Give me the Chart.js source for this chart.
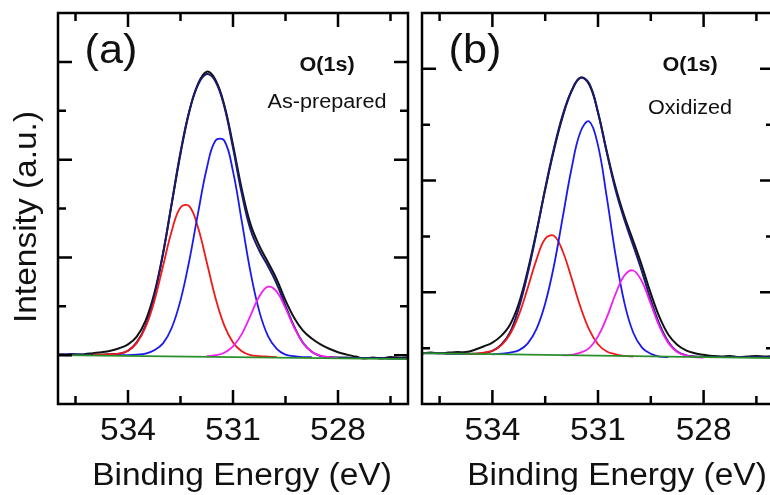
<!DOCTYPE html>
<html>
<head>
<meta charset="utf-8">
<script src="https://cdn.jsdelivr.net/npm/chart.js@4.4.1/dist/chart.umd.min.js"></script>
<style>
html,body{margin:0;padding:0;background:#fff;overflow:hidden;width:770px;height:495px;position:relative;}
canvas{position:absolute;top:0;}
</style>
</head>
<body>
<canvas id="cA" width="414" height="495" style="left:0"></canvas>
<canvas id="cB" width="370" height="495" style="left:414px"></canvas>
<script>
// ---------- data (binding energy in eV, intensity in arbitrary units) ----------
const energy = [536, 535.75, 535.5, 535.25, 535, 534.75, 534.5, 534.25, 534, 533.75,
  533.5, 533.25, 533, 532.75, 532.5, 532.25, 532, 531.75, 531.5, 531.25,
  531, 530.75, 530.5, 530.25, 530, 529.75, 529.5, 529.25, 529, 528.75,
  528.5, 528.25, 528, 527.75, 527.5, 527.25, 527, 526.75, 526.5, 526.25, 526];

// (a) As-prepared
const aMeasured = [0.01, 0.00, 0.01, 0.02, 0.04, 0.06, 0.09, 0.14, 0.22, 0.38,
  0.70, 1.26, 2.08, 3.10, 4.12, 4.98, 5.55, 5.80, 5.63, 5.12,
  4.30, 3.40, 2.68, 2.24, 1.90, 1.55, 1.12, 0.76, 0.50, 0.34,
  0.22, 0.13, 0.06, 0.01, -0.03, -0.07, -0.05, -0.07, -0.04, -0.06, -0.05];
const aFit = [0.02, 0.02, 0.02, 0.01, 0.01, 0.01, 0.02, 0.03, 0.09, 0.26,
  0.60, 1.21, 2.07, 3.11, 4.15, 4.99, 5.53, 5.75, 5.60, 5.09,
  4.24, 3.31, 2.57, 2.14, 1.82, 1.46, 1.01, 0.58, 0.25, 0.07,
  -0.02, -0.04, -0.05, -0.05, -0.06, -0.06, -0.06, -0.06, -0.07, -0.07, -0.07];
const aPeakHigh = [null, null, null, null, 0.01, 0.01, 0.02, 0.03, 0.09, 0.25,
  0.57, 1.10, 1.82, 2.54, 3.02, 3.05, 2.61, 1.90, 1.17, 0.61,
  0.26, 0.08, 0.00, -0.02, -0.03, -0.04, null, null, null, null,
  null, null, null, null, null, null, null, null, null, null, null];
const aPeakMid = [null, null, null, null, null, null, null, 0.00, 0.00, 0.01,
  0.03, 0.10, 0.24, 0.56, 1.12, 1.93, 2.90, 3.82, 4.39, 4.39,
  3.76, 2.74, 1.70, 0.90, 0.39, 0.13, 0.01, -0.02, -0.04, -0.04,
  null, null, null, null, null, null, null, null, null, null, null];
const aPeakLow = [null, null, null, null, null, null, null, null, null, null,
  null, null, null, null, null, null, null, -0.02, 0.00, 0.05,
  0.18, 0.43, 0.81, 1.20, 1.40, 1.30, 0.96, 0.56, 0.25, 0.07,
  -0.01, -0.04, -0.05, null, null, null, null, null, null, null, null];
const baselineEnergy = [536, 526];
const aBaseline = [0.00, -0.08];

// (b) Oxidized
const bMeasured = [0.91, 0.92, 0.91, 0.92, 0.93, 0.93, 0.97, 1.03, 1.10, 1.22,
  1.42, 1.80, 2.38, 3.08, 3.84, 4.55, 5.15, 5.60, 5.84, 5.72,
  5.22, 4.52, 3.88, 3.36, 2.92, 2.47, 1.98, 1.55, 1.24, 1.06,
  0.96, 0.91, 0.88, 0.86, 0.85, 0.86, 0.84, 0.85, 0.86, 0.85, 0.86];
const bFit = [0.91, 0.91, 0.91, 0.90, 0.90, 0.90, 0.90, 0.91, 0.95, 1.06,
  1.28, 1.72, 2.33, 3.06, 3.86, 4.58, 5.18, 5.61, 5.84, 5.74,
  5.22, 4.50, 3.83, 3.30, 2.84, 2.37, 1.86, 1.42, 1.11, 0.94,
  0.87, 0.85, 0.84, 0.84, 0.84, 0.84, 0.84, 0.84, 0.84, 0.84, 0.84];
const bPeakHigh = [null, null, null, null, null, 0.90, 0.90, 0.92, 0.95, 1.05,
  1.25, 1.59, 2.07, 2.58, 2.96, 3.01, 2.73, 2.25, 1.74, 1.33,
  1.07, 0.94, 0.89, 0.86, 0.85, null, null, null, null, null,
  null, null, null, null, null, null, null, null, null, null, null];
const bPeakMid = [null, null, null, null, null, null, null, null, 0.89, 0.90,
  0.92, 0.96, 1.08, 1.34, 1.80, 2.48, 3.35, 4.22, 4.87, 5.06,
  4.63, 3.70, 2.66, 1.81, 1.28, 1.01, 0.90, 0.85, 0.84, null,
  null, null, null, null, null, null, null, null, null, null, null];
const bPeakLow = [null, null, null, null, null, null, null, null, null, null,
  null, null, null, null, null, null, 0.87, 0.88, 0.92, 1.00,
  1.21, 1.55, 1.97, 2.30, 2.39, 2.19, 1.79, 1.38, 1.09, 0.93,
  0.87, 0.84, 0.83, null, null, null, null, null, null, null, null];
const bBaseline = [0.91, 0.82];

// axis ticks
const xMinorTicks = [535.5, 532.5, 529.5, 526.5];
const xMajorTicks = [534, 531, 528];
const xTickLabels = ['534', '531', '528'];
const aYMajorTicks = [0, 2, 4, 6];
const aYMinorTicks = [1, 3, 5];
const bYMajorTicks = [2, 4, 6];
const bYMinorTicks = [1, 3, 5];

// ---------- rendering ----------
const FONT = '"Liberation Sans", Arial, Helvetica, sans-serif';
const STRETCH = 1.08;
const COLORS = {
  measured: '#111111', fit: '#1a1a6e', high: '#f01818',
  mid: '#1a1af0', low: '#f41ef4', base: '#2b8f2b'
};

function pts(xs, ys) {
  return ys.map((v, i) => ({x: xs[i], y: v}));
}

function series(label, xs, ys, color, order, width) {
  return {
    label, data: pts(xs, ys), borderColor: color, backgroundColor: color,
    borderWidth: width, pointRadius: 0, tension: 0.4, fill: false,
    spanGaps: false, order
  };
}

function text(ctx, str, x, y, rot) {
  ctx.save();
  ctx.translate(x, y);
  if (rot) ctx.rotate(rot);
  ctx.scale(STRETCH, 1);
  ctx.fillText(str, 0, 0);
  ctx.restore();
}

function panelPlugin(cfg) {
  return {
    id: 'panel' + cfg.tag,
    afterDatasetsDraw(chart) {
      const {ctx, chartArea: a, scales: {x, y}} = chart;
      ctx.save();
      ctx.strokeStyle = '#000';
      ctx.lineWidth = 2.5;
      ctx.lineCap = 'butt';
      ctx.strokeRect(a.left, a.top, a.right - a.left, a.bottom - a.top);
      ctx.beginPath();
      const xt = (v, len) => {
        const p = x.getPixelForValue(v);
        ctx.moveTo(p, a.bottom); ctx.lineTo(p, a.bottom - len);
        ctx.moveTo(p, a.top); ctx.lineTo(p, a.top + len);
      };
      xMajorTicks.forEach(v => xt(v, 14));
      xMinorTicks.forEach(v => xt(v, 8));
      const yt = (v, len) => {
        const p = y.getPixelForValue(v);
        ctx.moveTo(a.left, p); ctx.lineTo(a.left + len, p);
        ctx.moveTo(a.right, p); ctx.lineTo(a.right - len, p);
      };
      cfg.yMajor.forEach(v => yt(v, 14));
      cfg.yMinor.forEach(v => yt(v, 8));
      ctx.stroke();
      ctx.restore();
    },
    afterDraw(chart) {
      const {ctx, scales: {x}} = chart;
      ctx.save();
      ctx.fillStyle = '#111';
      ctx.textAlign = 'center';
      ctx.textBaseline = 'alphabetic';
      ctx.font = '31px ' + FONT;
      xMajorTicks.forEach((v, i) => text(ctx, xTickLabels[i], x.getPixelForValue(v), 440));
      text(ctx, 'Binding Energy (eV)', cfg.xTitleX, 485);
      if (cfg.yTitle) text(ctx, cfg.yTitle, 36, 217, -Math.PI / 2);
      ctx.font = '40px ' + FONT;
      text(ctx, cfg.tag, cfg.tagX, 63);
      ctx.font = 'bold 20px ' + FONT;
      text(ctx, 'O(1s)', cfg.noteX, 71);
      ctx.font = '20px ' + FONT;
      text(ctx, cfg.sample, cfg.noteX, cfg.sampleY);
      ctx.restore();
    }
  };
}

function makeChart(id, d, cfg) {
  return new Chart(document.getElementById(id), {
    type: 'line',
    data: {
      datasets: [
        series('Baseline', baselineEnergy, d.base, COLORS.base, 0, 1.8),
        series('Peak 3', energy, d.low, COLORS.low, 1, 1.8),
        series('Peak 2', energy, d.mid, COLORS.mid, 2, 1.8),
        series('Peak 1', energy, d.high, COLORS.high, 3, 1.8),
        series('Fit', energy, d.fit, COLORS.fit, 4, 2),
        series('Measured', energy, d.meas, COLORS.measured, 5, 2)
      ]
    },
    options: {
      responsive: false,
      animation: false,
      devicePixelRatio: 1,
      layout: {padding: cfg.padding},
      plugins: {legend: {display: false}, tooltip: {enabled: false}},
      scales: {
        x: {type: 'linear', reverse: true, min: 526, max: 536, display: false},
        y: {type: 'linear', min: cfg.yMin, max: 7, display: false}
      }
    },
    plugins: [panelPlugin(cfg)]
  });
}

makeChart('cA',
  {meas: aMeasured, fit: aFit, high: aPeakHigh, mid: aPeakMid, low: aPeakLow, base: aBaseline},
  {tag: '(a)', tagX: 111, noteX: 327, sample: 'As-prepared', sampleY: 108,
   xTitleX: 242, yTitle: 'Intensity (a.u.)', yMin: -1,
   yMajor: aYMajorTicks, yMinor: aYMinorTicks,
   padding: {left: 58, right: 6, top: 13, bottom: 91}});

makeChart('cB',
  {meas: bMeasured, fit: bFit, high: bPeakHigh, mid: bPeakMid, low: bPeakLow, base: bBaseline},
  {tag: '(b)', tagX: 61, noteX: 276, sample: 'Oxidized', sampleY: 114,
   xTitleX: 203, yTitle: null, yMin: 0,
   yMajor: bYMajorTicks, yMinor: bYMinorTicks,
   padding: {left: 8, right: 10, top: 13, bottom: 91}});
</script>
</body>
</html>
